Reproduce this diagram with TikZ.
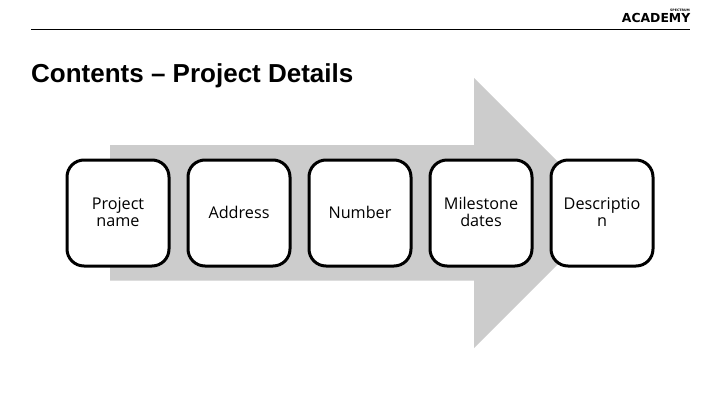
\documentclass[tikz,border=0pt]{standalone}
\usepackage{fontspec}
\setmainfont{Open Sans}
\newfontfamily\headfont{Liberation Sans}
\newfontfamily\logofont{DejaVu Sans}
\newcommand\bxl[1]{\rule[-3.5pt]{0pt}{17pt}\smash{#1}}
\tikzset{
  stepbox/.style={draw=black,fill=white,line width=3pt,rounded corners=17pt,minimum width=102pt,minimum height=106pt,inner sep=0pt,outer sep=0pt,align=center,font=\fontsize{16.2}{17}\selectfont,text=black},
  topic/.style={inner sep=0pt,anchor=west,font=\headfont\bfseries\fontsize{26}{30}\selectfont},
  arrowshape/.style={fill=black!20,draw=none},
  rulemark/.style={draw=black,line width=0.7pt}
}
\begin{document}
\begin{tikzpicture}[x=1pt,y=-1pt]
\useasboundingbox (0,0) rectangle (720,405);
\fill[white] (0,0) rectangle (720,405);
\fill[arrowshape] (110,145) -- (474,145) -- (474,78) -- (609,213) -- (474,348) -- (474,280.5) -- (110,280.5) -- cycle;
\draw[rulemark] (31,29) -- (690,29);
\node[topic] (title) at (31,76) {Contents – Project Details};
\node[anchor=east,inner sep=0pt,font=\logofont\bfseries\fontsize{12.4}{12}\selectfont] (logo) at (690.5,18) {ACADEMY};
\node[anchor=east,inner sep=0pt,font=\logofont\bfseries\fontsize{3.2}{4}\selectfont] (logosub) at (690,10.5) {SPECTRUM};
\node[stepbox] (b1) at (118,213) {\bxl{Project}\\\bxl{name}};
\node[stepbox] (b2) at (239,213) {\bxl{Address}};
\node[stepbox] (b3) at (360,213) {\bxl{Number}};
\node[stepbox] (b4) at (481,213) {\bxl{Milestone}\\\bxl{dates}};
\node[stepbox] (b5) at (602,213) {\bxl{Descriptio}\\\bxl{n}};
\end{tikzpicture}
\end{document}
